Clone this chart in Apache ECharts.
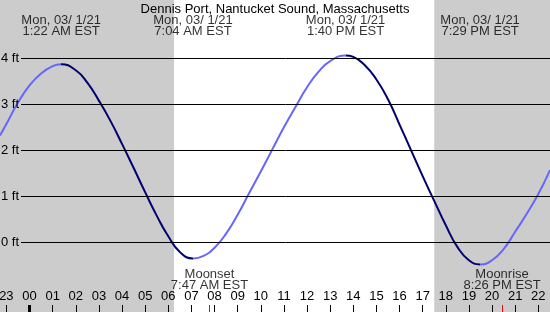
<!DOCTYPE html>
<html><head><meta charset="utf-8">
<script src="https://cdn.jsdelivr.net/npm/echarts@6/dist/echarts.min.js"></script>
<style>html,body{margin:0;padding:0;background:#fff}#c{width:550px;height:312px}</style>
</head><body><div id="c"></div>
<script>
const chartTitle = 'Dennis Port, Nantucket Sound, Massachusetts';
const times = [-1.2756, -1, -0.54, 0, 0.5, 1, 1.367, 2, 2.5, 3, 3.5, 4, 4.5, 5, 5.5, 6, 6.5, 7.067, 7.5, 8, 8.5, 9, 9.5, 10, 10.5, 11, 11.5, 12, 12.5, 13, 13.667, 14, 14.5, 15, 15.5, 16, 16.5, 17, 17.5, 18, 18.5, 19, 19.483, 20, 20.5, 21, 21.5, 22, 22.506];
const heights = [2.32, 2.57, 3.00, 3.41, 3.67, 3.83, 3.87, 3.74, 3.47, 3.08, 2.64, 2.14, 1.62, 1.09, 0.58, 0.13, -0.21, -0.35, -0.30, -0.12, 0.19, 0.60, 1.07, 1.54, 2.02, 2.50, 2.94, 3.37, 3.71, 3.94, 4.06, 4.03, 3.85, 3.54, 3.11, 2.56, 2.00, 1.44, 0.90, 0.37, -0.10, -0.39, -0.48, -0.39, -0.15, 0.23, 0.62, 1.05, 1.57];
const extremeTimes = [1.367, 7.067, 13.667, 19.483];
const extremeLabels = ['Mon, 03/ 1/21\n1:22 AM EST', 'Mon, 03/ 1/21\n7:04 AM EST', 'Mon, 03/ 1/21\n1:40 PM EST', 'Mon, 03/ 1/21\n7:29 PM EST'];
const nightRanges = [[-1.2756, 6.247], [17.5, 22.506]];
const moonTimes = [7.783, 20.433];
const moonLabels = ['Moonset\n7:47 AM EST', 'Moonrise\n8:26 PM EST'];
const hourTicks = [-1, 0, 1, 2, 3, 4, 5, 6, 7, 8, 9, 10, 11, 12, 13, 14, 15, 16, 17, 18, 19, 20, 21, 22];
const hourLabels = ['23', '00', '01', '02', '03', '04', '05', '06', '07', '08', '09', '10', '11', '12', '13', '14', '15', '16', '17', '18', '19', '20', '21', '22'];
const footLevels = [0, 1, 2, 3, 4];
const footLabels = ['0 ft', '1 ft', '2 ft', '3 ft', '4 ft'];

const X_MIN = -1.2756, X_MAX = 22.506, Y_MIN = -1.5152, Y_MAX = 5.2674;
const FONT = 'Liberation Sans';
const LIGHT = '#6666ff', DARK = '#000070';

const chart = echarts.init(document.getElementById('c'), null, {renderer: 'canvas'});
const baseX = (grid) => ({type: 'value', gridIndex: grid, position: 'bottom', offset: 0, z: 10, min: X_MIN, max: X_MAX,
  axisLine: {show: false, onZero: false}, splitLine: {show: false}, axisLabel: {show: false}, axisTick: {show: false}});
const pieces = [
  {lt: extremeTimes[0], color: LIGHT},
  {gte: extremeTimes[0], lt: extremeTimes[1], color: DARK},
  {gte: extremeTimes[1], lt: extremeTimes[2], color: LIGHT},
  {gte: extremeTimes[2], lt: extremeTimes[3], color: DARK},
  {gte: extremeTimes[3], color: LIGHT}
];
chart.setOption({
  animation: false,
  backgroundColor: '#ffffff',
  title: {text: chartTitle, left: 'center', top: -2, textStyle: {fontFamily: FONT, fontSize: 13, fontWeight: 'normal', color: '#000'}},
  grid: [
    {left: 0, right: 0, top: 0, bottom: 0, containLabel: false, outerBoundsMode: 'none'},
    {left: 21, right: 0, top: 0, bottom: 0, containLabel: false, outerBoundsMode: 'none'}
  ],
  xAxis: [
    Object.assign(baseX(0), {
      axisTick: {show: true, inside: true, length: 7, customValues: hourTicks, lineStyle: {color: '#000', width: 1}},
      axisLabel: {show: true, inside: true, margin: 9, customValues: hourTicks, fontFamily: FONT, fontSize: 13, color: '#000',
        formatter: (v) => { const i = hourTicks.indexOf(Math.round(v)); return i >= 0 ? hourLabels[i] : ''; }}
    }),
    Object.assign(baseX(0), {axisTick: {show: true, inside: true, length: 7, customValues: [0], lineStyle: {color: '#000', width: 3}}}),
    Object.assign(baseX(0), {axisTick: {show: true, inside: true, length: 7, customValues: moonTimes, lineStyle: {color: '#ff0000', width: 1}}}),
    baseX(1)
  ],
  yAxis: [
    {type: 'value', gridIndex: 0, min: Y_MIN, max: Y_MAX, show: false},
    {type: 'value', gridIndex: 1, min: Y_MIN, max: Y_MAX, show: false}
  ],
  visualMap: {type: 'piecewise', show: false, dimension: 0, seriesIndex: 2, pieces: pieces},
  series: [
    {type: 'line', xAxisIndex: 0, yAxisIndex: 0, data: [], z: 0, silent: true,
      markArea: {silent: true, itemStyle: {color: '#cccccc'}, data: nightRanges.map(r => [{xAxis: r[0]}, {xAxis: r[1]}])}},
    {type: 'line', xAxisIndex: 3, yAxisIndex: 1, data: [], z: 1, silent: true,
      markLine: {silent: true, symbol: 'none', animation: false,
        lineStyle: {type: 'solid', color: '#000', width: 1},
        label: {show: true, position: 'start', distance: 2, fontFamily: FONT, fontSize: 13, color: '#000',
          formatter: (p) => footLabels[footLevels.indexOf(p.value)]},
        emphasis: {disabled: true},
        data: footLevels.map(v => ({yAxis: v}))}},
    {type: 'line', xAxisIndex: 0, yAxisIndex: 0, z: 3, smooth: true, symbol: 'none', silent: true,
      lineStyle: {width: 2},
      data: times.map((t, i) => [t, heights[i]])},
    {type: 'scatter', xAxisIndex: 0, yAxisIndex: 0, z: 4, symbolSize: 1, silent: true,
      itemStyle: {color: 'rgba(0,0,0,0)'},
      label: {show: true, position: 'inside', fontFamily: FONT, fontSize: 13, lineHeight: 11.5, color: '#000',
        formatter: (p) => extremeLabels[p.dataIndex]},
      data: extremeTimes.map(t => [t, 4.709])},
    {type: 'scatter', xAxisIndex: 0, yAxisIndex: 0, z: 4, symbolSize: 1, silent: true,
      itemStyle: {color: 'rgba(0,0,0,0)'},
      label: {show: true, position: 'inside', fontFamily: FONT, fontSize: 13, lineHeight: 11.5, color: '#000',
        formatter: (p) => moonLabels[p.dataIndex]},
      data: moonTimes.map(t => [t, -0.814])}
  ]
});
</script></body></html>
